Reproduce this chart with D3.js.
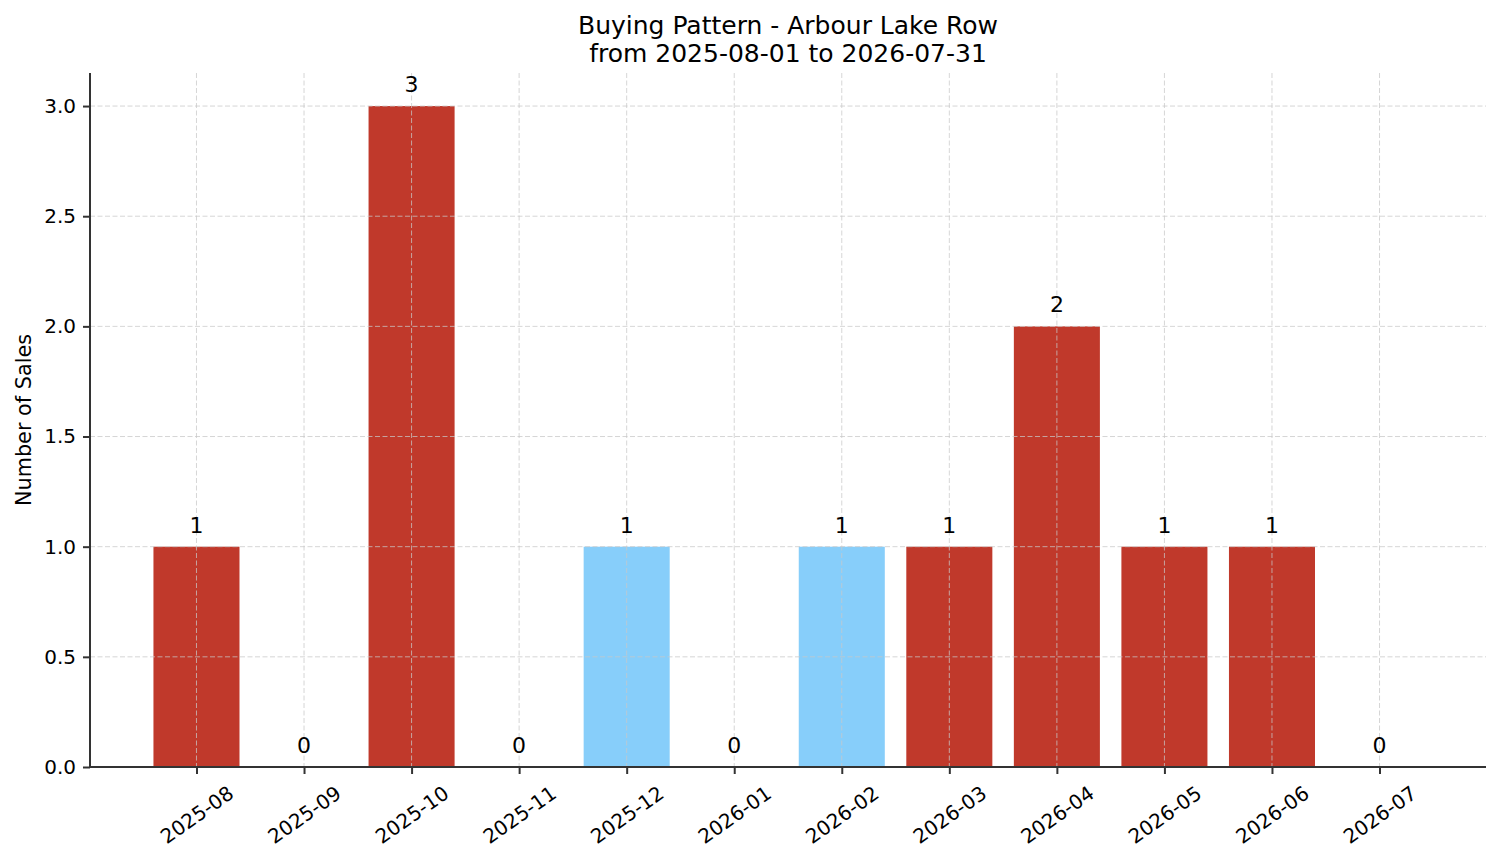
<!DOCTYPE html>
<html>
<head>
<meta charset="utf-8">
<script src="https://cdn.jsdelivr.net/npm/d3@7"></script>
<style>
  body { margin: 0; background: #fff; }
  text { font-family: "DejaVu Sans", sans-serif; fill: #000; }
</style>
</head>
<body>
<svg id="chart" width="1501" height="863"></svg>
<script>
// Data
const months = ["2025-08", "2025-09", "2025-10", "2025-11", "2025-12", "2026-01",
                "2026-02", "2026-03", "2026-04", "2026-05", "2026-06", "2026-07"];
const sales = [1, 0, 3, 0, 1, 0, 1, 1, 2, 1, 1, 0];
const group = ["main", "main", "main", "main", "alt", "main",
               "alt", "main", "main", "main", "main", "main"];
const yTicks = [0, 0.5, 1, 1.5, 2, 2.5, 3];
const titleLines = ["Buying Pattern - Arbour Lake Row", "from 2025-08-01 to 2026-07-31"];
const yLabel = "Number of Sales";

const width = 1501;
const height = 863;
const margin = { top: 73, right: 15, bottom: 96, left: 90 };

const svg = d3.select("#chart");
const plotW = width - margin.left - margin.right;
const plotH = height - margin.top - margin.bottom;

const g = svg.append("g")
  .attr("transform", "translate(" + margin.left + "," + margin.top + ")");

// X: index scale, matplotlib style margins around the bars
const barW = 0.8;
const xScale = d3.scaleLinear()
  .domain([-0.4 - 0.59, months.length - 1 + 0.4 + 0.59])
  .range([0, plotW]);

const yScale = d3.scaleLinear()
  .domain([0, 3.15])
  .range([plotH, 0]);

const color = d3.scaleOrdinal()
  .domain(["main", "alt"])
  .range(["#c0392b", "#87cefa"]);

// Bars
g.selectAll("rect.bar")
  .data(sales)
  .enter()
  .append("rect")
  .attr("class", "bar")
  .attr("x", (d, i) => xScale(i - barW / 2))
  .attr("width", (d, i) => xScale(i + barW / 2) - xScale(i - barW / 2))
  .attr("y", (d) => yScale(d))
  .attr("height", (d) => yScale(0) - yScale(d))
  .attr("fill", (d, i) => color(group[i]));

// Grid (drawn over the bars, like the reference)
const grid = g.append("g").attr("class", "grid");
grid.selectAll("line.h")
  .data(yTicks)
  .enter()
  .append("line")
  .attr("x1", 0)
  .attr("x2", plotW)
  .attr("y1", (d) => yScale(d))
  .attr("y2", (d) => yScale(d));
grid.selectAll("line.v")
  .data(months)
  .enter()
  .append("line")
  .attr("x1", (d, i) => xScale(i))
  .attr("x2", (d, i) => xScale(i))
  .attr("y1", 0)
  .attr("y2", plotH);
grid.selectAll("line")
  .attr("stroke", "#c8c8c8")
  .attr("stroke-opacity", 0.75)
  .attr("stroke-width", 1)
  .attr("stroke-dasharray", "5,2.5");

// Value labels
g.selectAll("text.val")
  .data(sales)
  .enter()
  .append("text")
  .attr("class", "val")
  .attr("x", (d, i) => xScale(i))
  .attr("y", (d) => yScale(d) - 14)
  .attr("text-anchor", "middle")
  .style("font-size", "22px")
  .text((d) => d);

// Y axis
const yAxis = g.append("g")
  .call(d3.axisLeft(yScale).tickValues(yTicks).tickFormat(d3.format(".1f")).tickSize(7).tickPadding(7));
yAxis.selectAll("text").style("font-size", "20px").attr("fill", "#000");

// X axis
const xAxis = g.append("g")
  .attr("transform", "translate(0," + plotH + ")")
  .call(d3.axisBottom(xScale)
    .tickValues(d3.range(months.length))
    .tickFormat((i) => months[i])
    .tickSize(7));
xAxis.selectAll("text")
  .style("font-size", "20px")
  .attr("fill", "#000")
  .attr("dy", null)
  .attr("text-anchor", "middle")
  .attr("dominant-baseline", "central")
  .attr("y", 0)
  .attr("transform", function () {
    // centre the rotated box under the tick, its top just below the tick
    const w = this.getComputedTextLength();
    const h = 24;
    const a = 35 * Math.PI / 180;
    const half = (w * Math.sin(a) + h * Math.cos(a)) / 2;
    return "translate(0," + (14 + half) + ") rotate(-35)";
  });

// Spines: only left and bottom, like the reference
[yAxis, xAxis].forEach((ax) => {
  ax.select(".domain").attr("stroke", "#333").attr("stroke-width", 2);
  ax.selectAll(".tick line").attr("stroke", "#333").attr("stroke-width", 2);
});
yAxis.select(".domain").attr("d", "M0," + plotH + "V0");
xAxis.select(".domain").attr("d", "M0,0H" + plotW);

// Title
svg.append("text")
  .attr("x", margin.left + plotW / 2)
  .attr("y", 34)
  .attr("text-anchor", "middle")
  .style("font-size", "25px")
  .selectAll("tspan")
  .data(titleLines)
  .enter()
  .append("tspan")
  .attr("x", margin.left + plotW / 2)
  .attr("dy", (d, i) => (i === 0 ? 0 : 28))
  .text((d) => d);

// Y label
svg.append("text")
  .attr("transform", "translate(31," + (margin.top + plotH / 2) + ") rotate(-90)")
  .attr("text-anchor", "middle")
  .style("font-size", "20.8px")
  .text(yLabel);
</script>
</body>
</html>
